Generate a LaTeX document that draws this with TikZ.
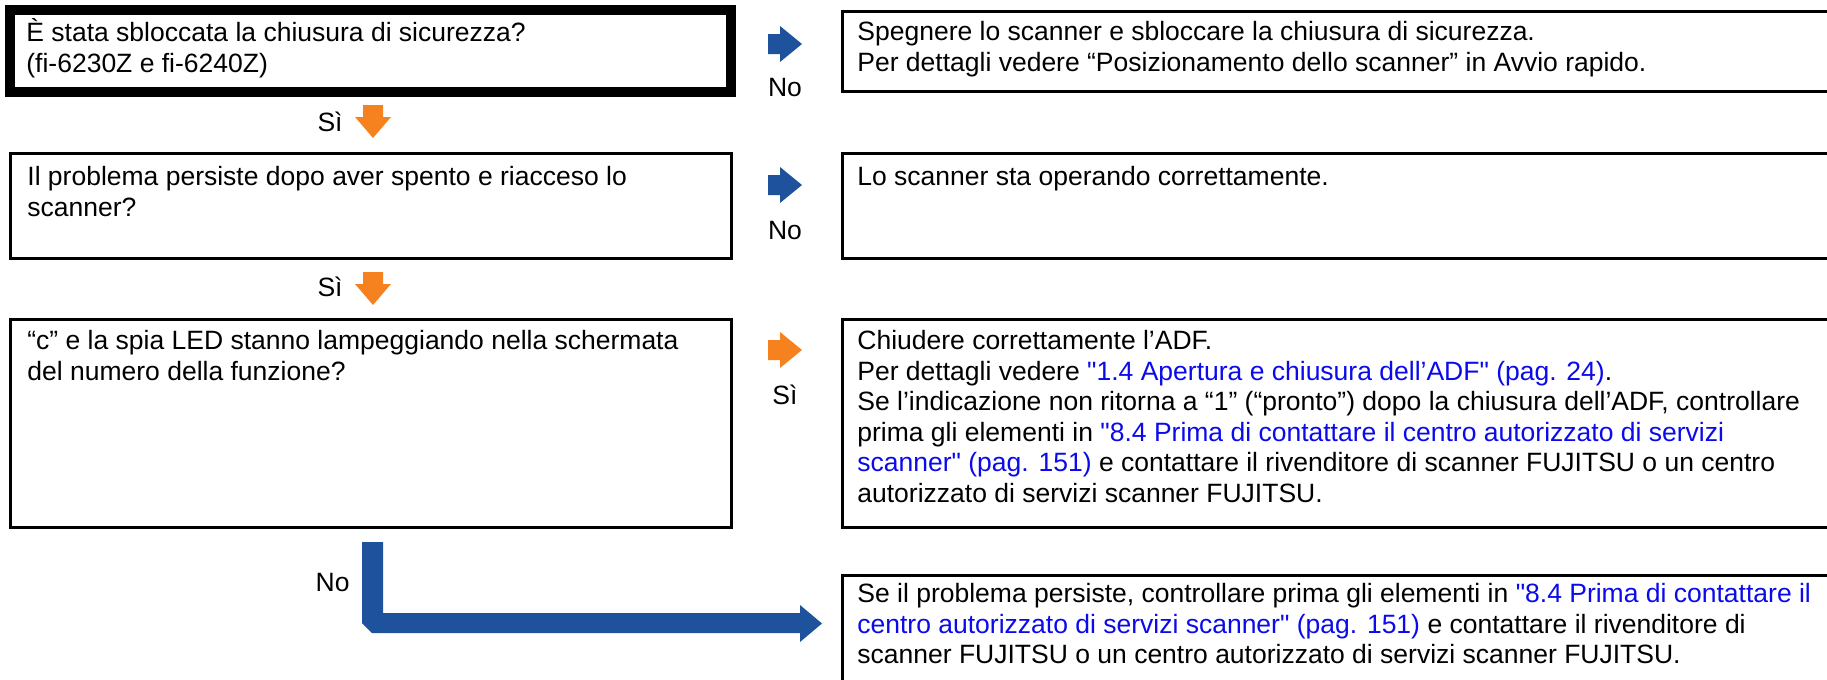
\documentclass[tikz,border=0pt]{standalone}
\usepackage{fontspec}
\setmainfont{Liberation Sans}
\definecolor{arrblue}{RGB}{30,82,156}
\definecolor{arrorange}{RGB}{246,130,31}
\definecolor{linkblue}{RGB}{10,10,235}
\newcommand{\lnk}[1]{\textcolor{linkblue}{#1}}
\newcommand{\sqq}{\XeTeXglyph\XeTeXcharglyph"22\relax}
\newcommand{\myRarr}[3]{\fill[#1] (#2,#3-10) -- ++(12,0) -- ++(0,-8) -- ++(22,18) -- ++(-22,18) -- ++(0,-8) -- ++(-12,0) -- cycle;}
\newcommand{\myDarr}[3]{\fill[#1] (#2-10,#3) -- ++(20,0) -- ++(0,12) -- ++(8,0) -- ++(-18,21) -- ++(-18,-21) -- ++(8,0) -- cycle;}
\begin{document}
\begin{tikzpicture}[x=0.5pt,y=-0.5pt,
  box/.style={draw=black, line width=1.5pt, inner sep=0pt, outer sep=0pt, anchor=north west},
  thickbox/.style={draw=black, line width=5pt, inner sep=0pt, outer sep=0pt, anchor=north west},
  txt/.style={anchor=north west, inner sep=0pt, align=left, font=\fontsize{13.25pt}{15.3pt}\selectfont},
  lbl/.style={inner sep=0pt, font=\fontsize{13.25pt}{15.3pt}\selectfont}]
\useasboundingbox (0,0) rectangle (1827,680);
% boxes
\node[thickbox, minimum width=360.5pt, minimum height=41pt] (b1) at (10,10) {};
\node[box, minimum width=504pt, minimum height=40pt] (r1) at (842,11) {};
\node[box, minimum width=360.5pt, minimum height=52.5pt] (b2) at (10,153) {};
\node[box, minimum width=504pt, minimum height=52.5pt] (r2) at (842,153) {};
\node[box, minimum width=360.5pt, minimum height=104pt] (b3) at (10,319) {};
\node[box, minimum width=504pt, minimum height=104pt] (r3) at (842,319) {};
\node[box, minimum width=504pt, minimum height=65pt] (r4) at (842,575) {};
% texts
\node[txt] (t1) at (26,15) {\rule{0pt}{13pt}È stata sbloccata la chiusura di sicurezza?\\(fi-6230Z e fi-6240Z)};
\node[txt] (tr1) at (857,14) {\rule{0pt}{13pt}Spegnere lo scanner e sbloccare la chiusura di sicurezza.\\Per dettagli vedere “Posizionamento dello scanner” in Avvio rapido.};
\node[txt] (t2) at (27,159) {\rule{0pt}{13pt}Il problema persiste dopo aver spento e riacceso lo\\scanner?};
\node[txt] (tr2) at (857,159) {\rule{0pt}{13pt}Lo scanner sta operando correttamente.};
\node[txt] (t3) at (27,323) {\rule{0pt}{13pt}“c” e la spia LED stanno lampeggiando nella schermata\\del numero della funzione?};
\node[txt] (tr3) at (857,323) {\rule{0pt}{13pt}Chiudere correttamente l’ADF.\\Per dettagli vedere \lnk{\sqq 1.4 Apertura e chiusura dell’ADF\sqq{} (pag. 24)}.\\Se l’indicazione non ritorna a “1” (“pronto”) dopo la chiusura dell’ADF, controllare\\prima gli elementi in \lnk{\sqq 8.4 Prima di contattare il centro autorizzato di servizi}\\\lnk{scanner\sqq{} (pag. 151)} e contattare il rivenditore di scanner FUJITSU o un centro\\autorizzato di servizi scanner FUJITSU.};
\node[txt] (tr4) at (857,576) {\rule{0pt}{13pt}Se il problema persiste, controllare prima gli elementi in \lnk{\sqq 8.4 Prima di contattare il}\\\lnk{centro autorizzato di servizi scanner\sqq{} (pag. 151)} e contattare il rivenditore di\\scanner FUJITSU o un centro autorizzato di servizi scanner FUJITSU.};
% block arrows
\myRarr{arrblue}{768}{44}
\myRarr{arrblue}{768}{185}
\myRarr{arrorange}{768}{350}
\myDarr{arrorange}{373}{105}
\myDarr{arrorange}{373}{272}
\fill[arrblue] (362,542) -- (383,542) -- (383,613) -- (800,613) -- (800,605) -- (822,623.5) -- (800,642) -- (800,633) -- (372,633) -- (362,623) -- cycle;
% labels
\node[lbl] (n1) at (785,88) {No};
\node[lbl] (n2) at (785,231) {No};
\node[lbl] (s3) at (785,395) {Sì};
\node[lbl, anchor=east] (s1) at (343,122) {Sì};
\node[lbl, anchor=east] (s2) at (343,287) {Sì};
\node[lbl, anchor=east] (n3) at (350,583) {No};
\end{tikzpicture}
\end{document}
